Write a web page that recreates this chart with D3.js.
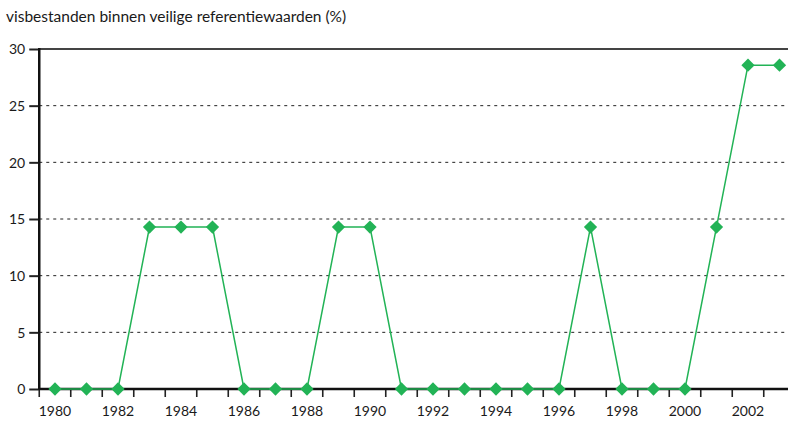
<!DOCTYPE html>
<html>
<head>
<meta charset="utf-8">
<script src="https://cdn.jsdelivr.net/npm/d3@7"></script>
<style>
  body { margin: 0; background: #fff; }
  text { font-family: Lato, "Open Sans", sans-serif; fill: #1a1a1a; }
</style>
</head>
<body>
<div id="chart"></div>
<script>
const years = d3.range(1980, 2004);
const values = [0, 0, 0, 14.29, 14.29, 14.29, 0, 0, 0, 14.29, 14.29, 0,
                0, 0, 0, 0, 0, 14.29, 0, 0, 0, 14.29, 28.57, 28.57];
const yTicks = [0, 5, 10, 15, 20, 25, 30];
const title = "visbestanden binnen veilige referentiewaarden (%)";

function drawChart() {
  let width = 788, height = 425;
  let left = 39.25, top = 49, bottom = 389;
  let band = 31.5;

  let svg = d3.select("#chart").append("svg")
    .attr("width", width).attr("height", height);

  let x = d3.scaleBand().domain(years).range([left, left + band * years.length]);
  let y = d3.scaleLinear().domain([0, 30]).range([bottom, top]);

  svg.append("text")
    .attr("x", 6).attr("y", 22)
    .style("font-size", "15.5px")
    .text(title);

  // grid lines
  svg.append("g").selectAll("line")
    .data(yTicks.filter(d => d > 0 && d < 30))
    .join("line")
    .attr("x1", left).attr("x2", width)
    .attr("y1", d => y(d)).attr("y2", d => y(d))
    .attr("stroke", "#222").attr("stroke-width", 1)
    .attr("stroke-dasharray", "3,4");

  // top frame line
  svg.append("line")
    .attr("x1", left).attr("x2", width)
    .attr("y1", y(30)).attr("y2", y(30))
    .attr("stroke", "#444").attr("stroke-width", 2.2);

  // y axis
  let yAxis = svg.append("g")
    .attr("transform", `translate(${left},0)`)
    .call(d3.axisLeft(y).tickValues(yTicks).tickSize(10).tickPadding(4));
  yAxis.select(".domain").remove();
  yAxis.selectAll(".tick line").attr("stroke", "#222").attr("stroke-width", 2);
  yAxis.selectAll(".tick text").style("font-size", "14px").attr("dy", "0.35em");
  svg.append("line")
    .attr("x1", left).attr("x2", left)
    .attr("y1", top - 1).attr("y2", bottom + 1)
    .attr("stroke", "#111").attr("stroke-width", 2.5);

  // x axis: ticks at band edges, labels centred in bands
  let xg = svg.append("g");
  xg.selectAll("line")
    .data(years)
    .join("line")
    .attr("x1", d => x(d)).attr("x2", d => x(d))
    .attr("y1", bottom).attr("y2", bottom + 8)
    .attr("stroke", "#222").attr("stroke-width", 1.6);
  xg.selectAll("text")
    .data(years.filter(d => d % 2 === 0))
    .join("text")
    .attr("x", d => x(d) + x.bandwidth() / 2)
    .attr("y", bottom + 27)
    .attr("text-anchor", "middle")
    .style("font-size", "14px")
    .text(d => d);
  svg.append("line")
    .attr("x1", left).attr("x2", width)
    .attr("y1", bottom).attr("y2", bottom)
    .attr("stroke", "#111").attr("stroke-width", 2.5);

  // series
  let pts = years.map((yr, i) => ({ yr, v: values[i] }));
  let line = d3.line()
    .x(d => x(d.yr) + x.bandwidth() / 2)
    .y(d => y(d.v));
  svg.append("path")
    .datum(pts)
    .attr("d", line)
    .attr("fill", "none")
    .attr("stroke", "#22b356").attr("stroke-width", 1.5);

  svg.append("g").selectAll("path")
    .data(pts)
    .join("path")
    .attr("d", d3.symbol().type(d3.symbolSquare).size(88))
    .attr("transform", d => `translate(${x(d.yr) + x.bandwidth() / 2},${y(d.v)}) rotate(45)`)
    .attr("fill", "#22b356");
}

drawChart();
</script>
</body>
</html>
